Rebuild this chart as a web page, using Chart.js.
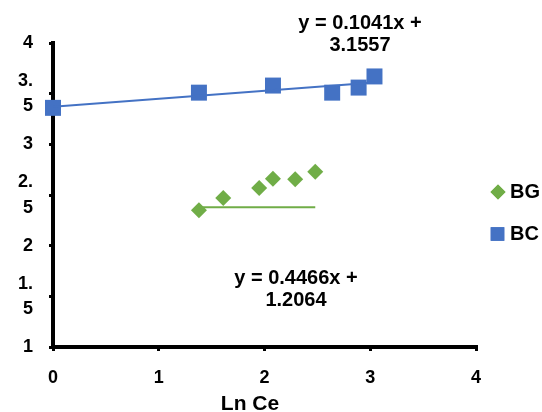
<!DOCTYPE html>
<html lang="en">
<head>
  <meta charset="UTF-8">
  <title>Ln Ce</title>
  <script src="https://cdn.jsdelivr.net/npm/chart.js"></script>
  <style>
    html, body { margin: 0; padding: 0; background: #fff; }
    #wrap { width: 542px; height: 412px; }
  </style>
</head>
<body>
  <div id="wrap"><canvas id="lnChart" width="542" height="412"></canvas></div>

  <script>
    // values
    const bcX = [0, 1.38, 2.08, 2.64, 2.89, 3.04];
    const bcY = [3.36, 3.51, 3.58, 3.51, 3.56, 3.67];
    const bgX = [1.38, 1.61, 1.95, 2.08, 2.29, 2.48];
    const bgY = [2.35, 2.47, 2.57, 2.66, 2.655, 2.73];

    const bcTrendX = [0, 3.04];
    const bcTrendY = [3.37, 3.61];
    const bgTrendX = [1.38, 2.48];
    const bgTrendY = [2.38, 2.38];

    const xTicks = [0, 1, 2, 3, 4];
    const yTickLabels = ['1', ['1.', '5'], '2', ['2.', '5'], '3', ['3.', '5'], '4'];

    const seriesNames = ['BG', 'BC'];
    const bcEquation = ['y = 0.1041x +', '3.1557'];
    const bgEquation = ['y = 0.4466x +', '1.2064'];
    const xTitle = 'Ln Ce';

    const BLUE = '#4472C4';
    const GREEN = '#70AD47';
    const FONT = '"Liberation Sans", Arial, sans-serif';

    const toPoints = (xs, ys) => xs.map((x, i) => ({ x: x, y: ys[i] }));

    const textPlugin = {
      id: 'textPlugin',
      afterDraw(chart) {
        const ctx = chart.ctx;
        const h = Chart.helpers;
        ctx.save();
        ctx.fillStyle = '#000';
        ctx.textAlign = 'center';
        ctx.textBaseline = 'middle';

        ctx.font = 'bold 20px ' + FONT;
        ctx.fillText(bcEquation[0], 360, 23);
        ctx.fillText(bcEquation[1], 360, 45);
        ctx.fillText(bgEquation[0], 296, 278);
        ctx.fillText(bgEquation[1], 296, 300);

        ctx.font = 'bold 21px ' + FONT;
        ctx.fillText(xTitle, 250, 404);

        // legend
        ctx.fillStyle = GREEN;
        ctx.beginPath();
        h.drawPoint(ctx, { pointStyle: 'rectRot', radius: 7.5, borderWidth: 0 }, 498, 192);
        ctx.fill();
        ctx.fillStyle = BLUE;
        ctx.beginPath();
        h.drawPoint(ctx, { pointStyle: 'rect', radius: 9.6, borderWidth: 0 }, 497.5, 234);
        ctx.fill();

        ctx.fillStyle = '#000';
        ctx.textAlign = 'left';
        ctx.font = 'bold 20px ' + FONT;
        ctx.fillText(seriesNames[0], 510, 192);
        ctx.fillText(seriesNames[1], 510, 234);
        ctx.restore();
      }
    };

    new Chart(document.getElementById('lnChart'), {
      type: 'scatter',
      data: {
        datasets: [
          {
            label: 'BC trend',
            type: 'line',
            data: toPoints(bcTrendX, bcTrendY),
            borderColor: BLUE,
            borderWidth: 2,
            pointRadius: 0,
            fill: false
          },
          {
            label: 'BG trend',
            type: 'line',
            data: toPoints(bgTrendX, bgTrendY),
            borderColor: GREEN,
            borderWidth: 2,
            pointRadius: 0,
            fill: false
          },
          {
            label: seriesNames[1],
            data: toPoints(bcX, bcY),
            pointStyle: 'rect',
            pointRadius: 11.3,
            backgroundColor: BLUE,
            borderColor: BLUE,
            borderWidth: 0,
            clip: false
          },
          {
            label: seriesNames[0],
            data: toPoints(bgX, bgY),
            pointStyle: 'rectRot',
            pointRadius: 8,
            backgroundColor: GREEN,
            borderColor: GREEN,
            borderWidth: 0,
            clip: false
          }
        ]
      },
      options: {
        responsive: false,
        animation: false,
        layout: { padding: { top: 43, right: 66, left: 0, bottom: 0 } },
        plugins: {
          legend: { display: false },
          tooltip: { enabled: false }
        },
        scales: {
          x: {
            type: 'linear',
            min: 0,
            max: 4,
            afterBuildTicks: scale => { scale.ticks = xTicks.map(v => ({ value: v })); },
            afterFit: scale => { scale.height = 65; },
            grid: { drawOnChartArea: false, drawTicks: true, tickLength: 4, color: '#000', lineWidth: 3 },
            border: { display: true, color: '#000', width: 4 },
            ticks: {
              color: '#000',
              padding: 16,
              autoSkip: false,
              maxRotation: 0,
              font: { family: FONT, size: 18, weight: 'bold' }
            }
          },
          y: {
            type: 'linear',
            min: 1,
            max: 4,
            afterBuildTicks: scale => {
              scale.ticks = yTickLabels.map((l, i) => ({ value: 1 + i * 0.5 }));
            },
            afterFit: scale => { scale.width = 53; },
            grid: { drawOnChartArea: false, drawTicks: true, tickLength: 4, color: '#000', lineWidth: 3 },
            border: { display: true, color: '#000', width: 4 },
            ticks: {
              color: '#000',
              padding: 16,
              autoSkip: false,
              font: { family: FONT, size: 18, weight: 'bold', lineHeight: 1.4 },
              callback: (value) => yTickLabels[Math.round((value - 1) / 0.5)]
            }
          }
        }
      },
      plugins: [textPlugin]
    });
  </script>
</body>
</html>
